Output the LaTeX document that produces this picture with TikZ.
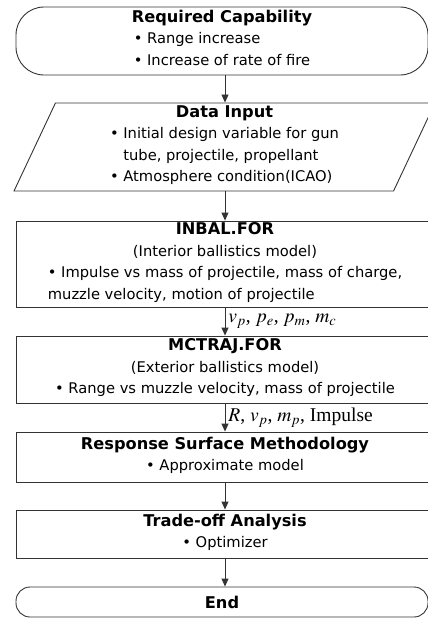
\documentclass[tikz,border=0pt]{standalone}
\usepackage{mathptmx}
\usepackage[no-math]{fontspec}
\setmainfont{Liberation Serif}
\setsansfont{DejaVu Sans}
\usetikzlibrary{arrows.meta,shapes.geometric}
\newcommand{\bul}{\textbullet\ }
\newcommand{\boxtitle}[1]{{\bfseries\fontsize{16.2}{21.5}\selectfont #1}}
\newcommand{\itemlist}[1]{\begin{tabular}[t]{@{}l@{}}#1\end{tabular}}
\colorlet{flow_line}{black!80}
\tikzset{
    box/.style={draw=flow_line,line width=0.9pt,align=center,inner sep=0pt,
        font=\sffamily\fontsize{14.7}{21.5}\selectfont},
    terminal/.style={box,rectangle},
    datainput/.style={box,trapezium,trapezium left angle=63.4,
        trapezium right angle=116.6,trapezium stretches body},
    process/.style={box,rectangle,minimum width=418pt},
    flow/.style={draw=flow_line,line width=0.9pt,-{Triangle[length=8pt,width=7pt]}},
    flow_label/.style={right,inner sep=3pt,font=\rmfamily\fontsize{19.5}{19.5}\selectfont},
}

\begin{document}
\begin{tikzpicture}[x=1pt,y=-1pt]
  \useasboundingbox (0,0) rectangle (428,619);
  \clip (0,0) rectangle (428,619);
  % start / data input
  \node[terminal,rounded corners=28pt,minimum width=412pt,minimum height=68pt] (cap) at (222,41)
    {\boxtitle{Required Capability}\\
     \itemlist{\bul Range increase\\\bul Increase of rate of fire}};
  \node[datainput,minimum width=421pt,minimum height=88pt] (din) at (224.5,147)
    {\boxtitle{Data Input}\\
     \itemlist{\bul Initial design variable for gun\\
       \hphantom{\bul}tube, projectile, propellant\\
       \bul Atmosphere condition(ICAO)}};
  % ballistics models
  \node[process,minimum height=86pt] (inbal) at (225,264)
    {\boxtitle{INBAL.FOR}\\(Interior ballistics model)\\
     \itemlist{\bul Impulse vs mass of projectile, mass of charge,\\
       muzzle velocity, motion of projectile}};
  \node[process,minimum height=67pt] (mctraj) at (225,369.5)
    {\boxtitle{MCTRAJ.FOR}\\(Exterior ballistics model)\\
     \itemlist{\bul Range vs muzzle velocity, mass of projectile}};
  % surrogate + optimizer
  \node[process,minimum height=50pt] (rsm) at (225,457)
    {\boxtitle{Response Surface Methodology}\\\itemlist{\bul Approximate model}};
  \node[process,minimum height=48pt] (tradeoff) at (225,534)
    {\boxtitle{Trade-off Analysis}\\\itemlist{\bul Optimizer}};
  \node[terminal,rounded corners=14pt,minimum width=412pt,minimum height=30pt] (stop) at (222,602)
    {\boxtitle{End}};
  % connectors
  \draw[flow] (cap.south -| inbal.north) -- (din.north -| inbal.north);
  \draw[flow] (din.south -| inbal.north) -- (inbal.north);
  \draw[flow] (inbal) -- node[flow_label] {$v_p$, $p_e$, $p_m$, $m_c$} (mctraj);
  \draw[flow] (mctraj) -- node[flow_label] {$R$, $v_p$, $m_p$, Impulse} (rsm);
  \draw[flow] (rsm) -- (tradeoff);
  \draw[flow] (tradeoff.south) -- (stop.north -| tradeoff.south);
\end{tikzpicture}
\end{document}
